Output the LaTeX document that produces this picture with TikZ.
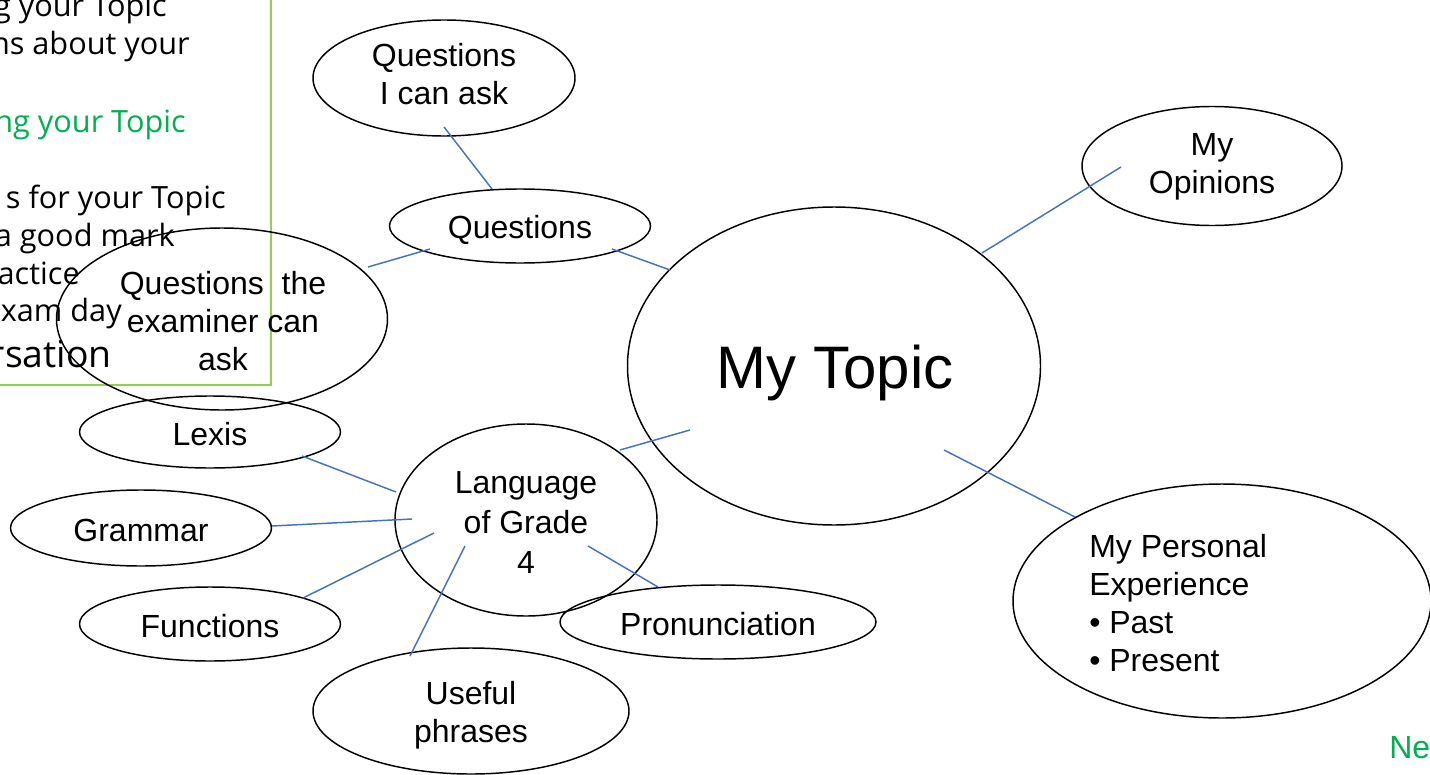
\documentclass[tikz,border=0pt]{standalone}
\usepackage{fontspec}
\setmainfont{Liberation Sans}
\newfontfamily\boxfont{Open Sans}
\usetikzlibrary{shapes.geometric}
\definecolor{conn}{HTML}{4472C4}
\definecolor{frameg}{HTML}{92D050}
\definecolor{textg}{HTML}{00B050}
\tikzset{
  ell/.style={draw=black, line width=1.1pt, ellipse, inner sep=0pt},
  lbl/.style={inner sep=0pt, align=center, font=\fontsize{24}{28.5}\selectfont},
  link/.style={draw=conn, line width=1.1pt},
  btxt/.style={inner sep=0pt, anchor=base east, font=\boxfont\fontsize{23}{27}\selectfont},
}
\begin{document}
\begin{tikzpicture}[x=0.75pt,y=-0.75pt]
\useasboundingbox (0,0) rectangle (1430,774);
\clip (0,0) rectangle (1430,774);
% left text frame
\node[draw=frameg, line width=1.5pt, minimum width=300*0.75pt, minimum height=420*0.75pt, anchor=south east, inner sep=0pt] (frame) at (272,386) {};
\node[btxt] (t1) at (167,17) {g your Topic};
\node[btxt] (t2) at (190,55) {ns about your};
\node[btxt, text=textg] (t3) at (186,132) {ng your Topic};
\node[btxt] (t4) at (226,208) {s for your Topic};
\node[btxt] (t5) at (175,246) {a good mark};
\node[btxt] (t6) at (80,284) {actice};
\node[btxt] (t7) at (122,321) {exam day};
\node[btxt, font=\boxfont\fontsize{28}{32}\selectfont] (t8) at (112,367) {rsation};
% ellipses
\node[ell, minimum width=262*0.75pt, minimum height=116*0.75pt] (qa) at (444,78) {};
\node[ell, minimum width=260*0.75pt, minimum height=119*0.75pt] (op) at (1212,166) {};
\node[ell, minimum width=261*0.75pt, minimum height=74*0.75pt] (q) at (520,226) {};
\node[ell, minimum width=331*0.75pt, minimum height=182*0.75pt] (ex) at (222,319) {};
\node[ell, minimum width=413*0.75pt, minimum height=318*0.75pt] (top) at (834,366) {};
\node[ell, minimum width=261*0.75pt, minimum height=72*0.75pt] (lex) at (210,432) {};
\node[ell, minimum width=262*0.75pt, minimum height=192*0.75pt] (lang) at (526,520) {};
\node[ell, minimum width=261*0.75pt, minimum height=76*0.75pt] (gr) at (141,528) {};
\node[ell, minimum width=261*0.75pt, minimum height=74*0.75pt] (fn) at (210,624) {};
\node[ell, minimum width=316*0.75pt, minimum height=74*0.75pt] (pr) at (718,622) {};
\node[ell, minimum width=316*0.75pt, minimum height=126*0.75pt] (up) at (471,711) {};
\node[ell, minimum width=418*0.75pt, minimum height=234*0.75pt] (pe) at (1222,601) {};
% labels
\node[lbl] (qaT) at (444,74) {Questions\\I can ask};
\node[lbl] (opT) at (1212,167) {My\\Opinions};
\node[lbl] (qT) at (520,230) {Questions};
\node[lbl] (exT) at (223,321) {Questions\ \ the\\examiner can\\ask};
\node[lbl, font=\fontsize{45}{50}\selectfont] (topT) at (835,373) {My Topic};
\node[lbl] (lexT) at (210,434) {Lexis};
\node[lbl, font=\fontsize{24}{30}\selectfont] (langT) at (526,522) {Language\\of Grade\\4};
\node[lbl] (grT) at (141,530) {Grammar};
\node[lbl] (fnT) at (210,626) {Functions};
\node[lbl] (prT) at (718,624) {Pronunciation};
\node[lbl] (upT) at (471,715) {Useful\\phrases};
\node[lbl, align=left, anchor=west] (peT) at (1089,603) {My Personal\\Experience\\• Past\\• Present};
\node[inner sep=0pt, anchor=base west, text=textg, font=\fontsize{24}{28}\selectfont] (ne) at (1389,758) {Ne};
% connectors
\draw[link] ([shift={(0,49)}]qa.center) -- ([shift={(-28,-37)}]q.center);
\draw[link] ([shift={(146,-52)}]ex.center) -- ([shift={(-90,23)}]q.center);
\draw[link] ([shift={(92,23)}]q.center) -- ([shift={(-164,-96)}]top.center);
\draw[link] ([shift={(148,-113)}]top.center) -- ([shift={(-91,1)}]op.center);
\draw[link] ([shift={(94,-70)}]lang.center) -- ([shift={(-144,64)}]top.center);
\draw[link] ([shift={(110,84)}]top.center) -- ([shift={(-147,-84)}]pe.center);
\draw[link] ([shift={(92,24)}]lex.center) -- ([shift={(-130,-28)}]lang.center);
\draw[link] ([shift={(131,-2)}]gr.center) -- ([shift={(-114,-1)}]lang.center);
\draw[link] ([shift={(93,-26)}]fn.center) -- ([shift={(-92,13)}]lang.center);
\draw[link] ([shift={(-61,-55)}]up.center) -- ([shift={(-61,26)}]lang.center);
\draw[link] ([shift={(-60,-35)}]pr.center) -- ([shift={(62,26)}]lang.center);
\end{tikzpicture}
\end{document}
